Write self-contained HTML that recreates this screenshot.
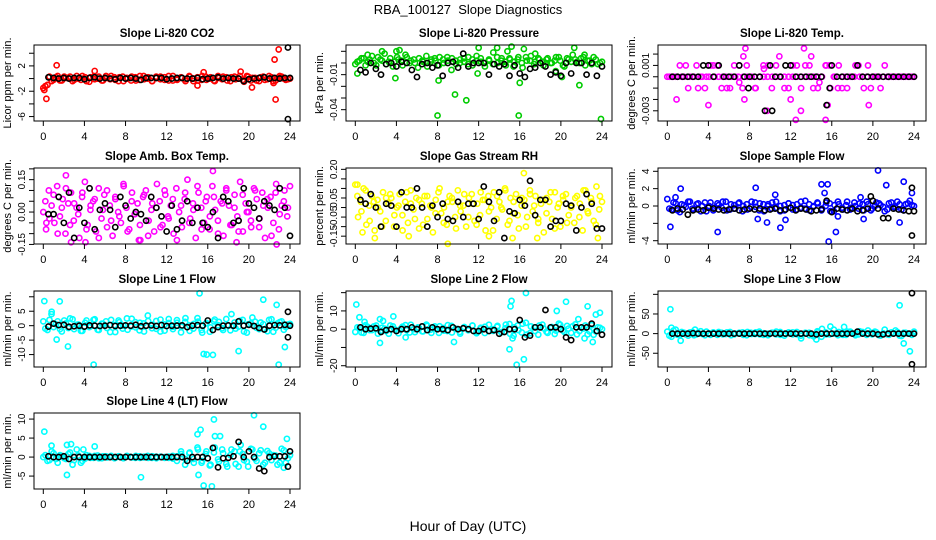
<!DOCTYPE html>
<html><head><meta charset="utf-8">
<style>
html,body{margin:0;padding:0;background:#fff;}
svg{display:block;font-family:"Liberation Sans",sans-serif;}
</style></head>
<body>
<svg id="chart" width="936" height="540" viewBox="0 0 936 540" xmlns="http://www.w3.org/2000/svg">
<rect x="0" y="0" width="936" height="540" fill="#fff"/>
<text x="468" y="14" text-anchor="middle" font-size="13">RBA_100127&#160; Slope Diagnostics</text>
<text x="468" y="531" text-anchor="middle" font-size="14">Hour of Day (UTC)</text>
</svg>
<script>
// ---- data ----
const xTicks = [0,4,8,12,16,20,24];
const co2Band = [-1.5,-1.0,-0.4,0.2,-0.3,0.3,0.1,-0.4,0.4,-0.2,0.2,-0.5,0.3,0.0,-0.3,0.4,-0.1,0.2,-0.4,0.3,0.1,-0.3,0.2,-0.2,0.4,0.0,-0.4,0.3,-0.1,0.2,-0.3,0.4,-0.2,0.1,-0.4,0.3,0.0,-0.3,0.4,-0.2,0.2,-0.4,0.1,0.3,-0.3,0.2,-0.1,0.4,-0.5,0.3,0.1,-0.3,0.2,-0.2,0.4,-0.4,0.1,0.3,-0.2,0.0];
const co2Band2 = [-1.2,0.3,-0.2,0.4,-0.3,0.1,0.3,-0.2,0.0,0.4,-0.4,0.2,-0.1,0.3,-0.3,0.1,0.4,-0.2,0.2,-0.4,0.0,0.3,-0.3,0.4,-0.1,0.2,-0.4,0.1,0.3,-0.2,0.4,-0.3,0.0,0.2,-0.1,0.4,-0.4,0.2,-0.2,0.3,0.0,-0.3,0.4,-0.1,0.2,-0.4,0.3,0.0,-0.2,0.4,-0.3,0.1,-0.4,0.3,-0.1,0.2,-0.3,0.4,0.0,-0.1];
const co2OutX = [1.3,0.3,0.1,5.0,15.0,15.6,19.2,20.3,22.4,22.5,22.6,22.9,23.0];
const co2OutY = [2.1,-3.2,-1.8,1.2,-1.1,1.0,1.1,-1.4,-0.7,3.0,-3.3,4.6,0.1];
const co2Black = [0.2,0.1,0,0.1,0,0.1,0.1,-0.1,0.1,0.2,0,0.1,0,-0.1,0.1,0,0.1,0,-0.2,0.1,0.1,0.1,0.1,-0.1,0,0.1,0.1,0,0,0.1,-0.1,0,0.1,0.2,0,0.1,0,0,-0.4,-0.1,0,0.1,0.2,0,0.1,0,0.1,0.1];
const co2BlkX = [23.8,23.8]; const co2BlkY = [4.9,-6.4];

const presBand = [-0.001,0.002,0.004,0.001,0.006,-0.002,0.003,0.008,0.001,-0.003,0.005,0.002,0.007,0.000,0.003,-0.004,0.002,0.006,0.001,0.004,-0.002,0.003,0.005,-0.006,0.002,0.000,0.004,-0.001,0.003,0.006,0.001,-0.003,0.002,0.009,0.000,0.004,-0.002,0.003,0.001,0.005,-0.004,0.002,0.006,0.001,0.003,-0.002,0.004,0.000,0.005,0.002,-0.003,0.003,0.007,0.001,0.004,-0.002,0.002,0.005,-0.001,0.001];
const presBand2 = [0.001,0.004,-0.002,0.003,0.000,0.005,0.002,-0.001,0.004,0.001,0.003,-0.002,0.005,0.002,0.000,0.004,0.001,-0.003,0.003,0.002,0.005,0.000,0.002,0.004,-0.001,0.003,0.001,0.005,-0.002,0.002,0.004,0.000,0.003,-0.001,0.005,0.002,0.001,0.004,-0.003,0.003,0.000,0.005,0.002,-0.001,0.004,0.001,0.003,0.000,0.002,0.005,-0.002,0.004,0.001,0.003,0.000,0.005,0.002,-0.001,0.003,0.000];
const presOutX = [0.2,1.2,2.6,3.9,4.0,4.3,8.0,8.1,9.7,10.8,11.9,12.0,13.8,14.8,15.2,15.9,16.0,16.4,17.5,19.5,20.1,21.3,21.8,22.3,23.9];
const presOutY = [-0.009,0.007,0.010,-0.013,0.010,0.011,-0.045,-0.015,-0.027,-0.032,-0.009,0.013,0.013,0.010,0.014,-0.045,-0.017,0.012,0.008,-0.007,-0.012,0.013,-0.019,0.007,-0.048];
const presBlack = [-0.006,-0.008,0.000,-0.005,-0.010,-0.001,0.000,-0.003,0.001,0.000,-0.006,-0.012,-0.001,0.000,-0.004,-0.002,-0.011,0.000,0.001,-0.004,0.008,-0.003,0.000,0.000,0.000,-0.010,-0.001,-0.003,-0.001,-0.011,-0.002,-0.009,-0.012,-0.005,-0.004,0.000,-0.003,-0.010,-0.008,-0.011,0.000,-0.009,0.000,0.000,-0.010,0.000,-0.011,-0.003];
const presBlkX = []; const presBlkY = [];

const tempBand = [0,0,0,0.001,0,-0.001,0,0.001,0,-0.001,0,0.001,0.001,-0.001,0,-0.001,0.001,0,-0.001,0.001,0,-0.001,0,0.001,0,-0.001,0.001,0,0,-0.001,0.001,0,-0.001,0.001,0.001,0,-0.001,0,0.001,-0.001,0,0.001,0,-0.001,0,0.001,0,-0.001,0.001,0,0,-0.001,0.001,0,0,0,0,0,0,0];
const tempBand2 = [0,0,0,0,0.001,0,0,-0.001,0,0,0.001,0,0,0,-0.001,0,0,0.001,0,0,0,-0.001,0,0,0.001,0,0,0,-0.001,0,0,0.001,0,0,0,-0.001,0,0,0.001,0.001,0,-0.001,-0.001,0,0,0,0.001,0,0,-0.001,0,0,0,0,0,0,0,0,0,0];
const tempOutX = [0.9,4.0,7.0,7.4,7.6,9.4,9.7,10.9,12.0,12.5,13.0,13.3,14.0,14.8,15.4,15.6,19.6,7.5];
const tempOutY = [-0.002,-0.0025,-0.0005,0.0018,0.0025,0.0007,-0.003,0.0018,-0.002,-0.0038,-0.003,0.0025,0.0018,-0.0005,-0.0038,-0.0025,-0.0025,-0.002];
const tempBlack = [0,0,0,0,0,0,0.001,0.001,0,0.001,0,0,0,0.001,0,0,0,0,-0.003,0.001,0,0,0.001,0.001,0,0,0,0,0,0,-0.0025,0.001,0,0,0,0,0.001,0,0,0,0,0,0,0,0,0,0,0];
const tempBlkX = [10.2,15.8,7.9]; const tempBlkY = [-0.003,-0.001,-0.001];

const ambBand = [0.00,-0.08,0.10,0.03,-0.05,0.12,-0.02,0.06,-0.10,0.04,0.09,-0.04,0.02,-0.12,0.07,0.14,-0.06,0.01,0.05,-0.09,0.11,-0.03,0.08,-0.07,0.03,-0.11,0.06,0.00,-0.05,0.12,0.02,-0.08,0.09,-0.01,0.04,-0.13,0.07,0.10,-0.04,0.01,-0.09,0.13,0.05,-0.06,0.08,-0.02,0.03,-0.10,0.11,0.00,-0.07,0.06,0.15,-0.03,0.04,-0.12,0.09,0.02,-0.05,0.07,-0.08,0.12,0.01,-0.04,0.05,-0.11,0.10,0.03,-0.06,0.08,-0.02,0.14,-0.09,0.04,0.00,-0.07,0.11,0.06,-0.03,0.09,-0.12,0.02,0.07,-0.05,0.13,-0.08,0.03,0.10,-0.02,0.12];
const ambBand2 = [0.05,-0.03,0.08,-0.10,0.02,0.11,-0.06,0.04,-0.01,0.09,-0.08,0.03,0.06,-0.12,0.01,0.10,-0.04,0.07,-0.02,0.13,-0.09,0.05,0.00,-0.06,0.08,-0.11,0.04,0.02,-0.07,0.10,-0.03,0.06,-0.13,0.03,0.09,-0.05,0.01,0.12,-0.08,0.05,-0.02,0.07,-0.10,0.04,0.11,-0.06,0.02,-0.09,0.08,0.00,-0.04,0.10,-0.07,0.03,0.06,-0.11,0.09,-0.01,0.05,0.02];
const ambOutX = [2.2,2.7,4.1,9.3,16.5,18.8,22.7,0.3];
const ambOutY = [0.17,-0.14,-0.14,-0.13,0.19,-0.14,-0.15,-0.05];
const ambBlack = [-0.01,-0.01,0.07,-0.05,0.09,-0.12,0.02,-0.05,0.11,-0.08,0.01,0.04,0.01,-0.07,0.07,0.03,-0.03,0.00,-0.01,-0.04,0.07,0.02,-0.02,-0.09,0.03,-0.08,-0.04,0.05,-0.05,0.02,-0.05,-0.07,0.00,-0.12,0.07,0.05,-0.05,-0.04,0.11,0.04,0.02,-0.03,0.05,0.03,0.01,0.11,0.02,-0.11];
const ambBlkX = []; const ambBlkY = [];

const rhBand = [0.12,-0.05,0.03,0.10,-0.09,0.01,0.06,-0.12,0.04,-0.02,0.08,-0.07,0.02,0.05,-0.10,0.00,0.07,-0.04,0.03,-0.08,0.09,-0.01,0.05,-0.11,0.02,0.06,-0.06,0.01,-0.13,0.04,0.08,-0.03,0.00,-0.09,0.06,0.03,-0.05,0.09,-0.02,0.01,-0.10,0.05,0.07,-0.07,0.02,-0.04,0.04,-0.12,0.06,0.00,0.08,-0.06,0.03,-0.01,0.10,-0.09,0.05,-0.03,0.07,-0.11,0.01,0.04,-0.05,0.09,-0.02,0.06,-0.08,0.02,-0.13,0.05,0.03,-0.06,0.08,0.00,-0.10,0.04,0.07,-0.04,0.01,-0.08,0.06,0.02,-0.12,0.09,-0.03,0.05,-0.07,0.11,-0.01,0.03];
const rhBand2 = [0.06,-0.02,0.09,-0.07,0.03,0.00,-0.10,0.05,0.07,-0.04,0.01,-0.12,0.08,0.02,-0.06,0.04,-0.09,0.06,0.00,-0.03,0.10,-0.08,0.03,0.05,-0.11,0.01,0.07,-0.05,0.02,-0.09,0.08,0.04,-0.02,-0.12,0.06,0.00,0.09,-0.07,0.03,-0.04,0.05,-0.10,0.07,0.01,-0.06,0.04,-0.03,0.08,-0.11,0.02,0.06,-0.08,0.00,0.05,-0.05,0.09,-0.02,0.03,-0.09,0.06];
const rhOutX = [0.7,1.9,5.2,9.0,13.0,15.3,16.4,17.7,23.6,0.2];
const rhOutY = [-0.13,-0.16,-0.15,-0.19,-0.15,-0.16,0.18,-0.16,-0.16,0.12];
const rhBlack = [0.04,0.02,0.07,0.00,-0.10,0.02,0.01,-0.10,0.08,0.00,0.00,0.10,0.00,-0.10,0.01,-0.05,0.02,-0.06,-0.07,0.03,-0.05,0.02,0.02,-0.06,0.11,0.03,-0.07,0.08,-0.16,-0.02,-0.03,0.04,0.01,0.14,-0.04,0.04,0.04,-0.10,-0.07,-0.07,0.02,0.01,-0.12,0.00,0.07,0.02,-0.11,-0.11];
const rhBlkX = []; const rhBlkY = [];

const sfBand = [0.8,-0.4,0.3,-0.7,0.1,0.5,-0.3,0.2,-0.6,0.4,0.0,-0.5,0.3,-0.2,0.5,-0.4,0.1,0.3,-0.6,0.2,-0.1,0.4,-0.5,0.2,0.0,-0.3,0.5,-0.6,0.1,0.3,-0.4,0.2,-0.2,0.6,-0.5,0.0,0.3,-0.3,0.4,-0.6,0.1,0.2,-0.4,0.5,-0.2,0.0,0.3,-0.5,0.2,-0.3,0.4,0.1,-0.6,0.3,-0.1,0.5,-0.4,0.2,0.6,0.0];
const sfBand2 = [-0.3,0.4,-0.5,0.2,-0.1,0.5,-0.4,0.3,0.0,-0.6,0.4,-0.2,0.1,0.5,-0.5,0.2,-0.3,0.4,0.0,-0.4,0.5,-0.1,0.3,-0.6,0.2,0.4,-0.2,0.0,-0.5,0.3,0.1,-0.4,0.5,-0.3,0.2,-0.1,0.4,-0.5,0.0,0.3,-0.6,0.5,-0.2,0.1,-0.4,0.4,-0.3,0.2,0.5,-0.5,0.0,0.3,-0.1,-0.4,0.4,-0.2,0.2,-0.5,0.3,0.1];
const sfOutX = [0.3,0.8,1.3,4.9,8.6,8.8,9.7,10.5,11.0,11.5,15.0,15.3,15.6,15.7,16.4,16.6,18.8,19.1,20.5,21.3,22.6,23.0,23.8];
const sfOutY = [-2.4,1.0,2.0,-3.0,2.1,-1.5,-1.9,1.3,-2.5,-1.6,2.5,1.5,2.5,-4.1,-3.0,-1.2,1.0,-1.5,4.1,2.4,-1.9,2.8,1.5];
const sfBlack = [-0.5,-0.3,-0.4,-1.0,-0.5,-0.4,-0.5,-0.2,-0.3,-0.4,-0.5,-0.4,-0.3,-0.5,-0.4,-0.3,-0.4,-0.3,-0.5,-0.4,-0.3,-0.5,-0.4,-0.2,-0.5,-0.3,-0.4,-0.6,-0.5,-0.4,0.6,-0.7,-0.3,-0.4,-0.5,-0.3,-0.6,-0.5,-0.3,0.6,-0.3,-1.4,-1.4,-0.3,-0.4,-0.5,-0.6,-0.6];
const sfBlkX = [23.8,23.8,19.8]; const sfBlkY = [-3.4,2.1,1.1];

const l1Band = [1.5,-1.5,4.8,0.5,-1.2,1.8,-0.8,2.2,0.3,-1.8,1.0,-0.5,2.0,-1.4,0.7,1.5,-2.2,0.2,1.8,-1.0,2.5,-0.3,1.2,-1.6,0.8,3.5,-0.9,1.6,-2.0,0.4,2.3,-1.2,1.0,-0.4,2.6,-1.8,0.6,1.4,-2.4,0.9,-0.6,2.1,1.3,-1.5,0.2,4.0,-1.0,1.7,-2.0,0.5,2.8,-0.7,1.1,-1.3,2.0,-2.1,0.8,1.5,-0.5,0.6];
const l1Band2 = [-1.0,2.0,-0.5,1.5,-2.0,0.8,2.5,-1.2,0.4,-1.8,1.8,-0.2,2.2,-1.5,0.6,-0.8,2.0,-2.2,1.2,0.0,-1.4,2.4,-0.6,1.0,-2.0,1.6,0.3,-1.1,2.1,-1.7,0.9,-0.4,1.9,-2.3,1.3,0.1,-1.0,2.6,-1.5,0.7,-2.1,1.5,0.2,-0.9,2.3,-1.6,1.1,-0.3,2.0,-2.4,0.8,1.4,-1.2,0.5,-1.9,2.2,-0.7,1.2,-1.4,0.4];
const l1OutX = [0.1,1.3,1.6,2.4,4.9,15.2,15.6,15.9,16.5,19.0,21.4,22.7,22.9,23.5,0.8];
const l1OutY = [8.5,-4.8,8.4,-7.2,-13.5,11.2,-9.8,-10,-10.1,-8.8,9.0,7.2,-13.5,-7.4,4.0];
const l1Black = [-0.3,0.7,0.2,0.3,-0.4,-0.2,0.0,-0.3,0.1,0.0,-0.1,0.0,0.2,-0.1,0.0,0.1,0.0,0.3,-0.2,0.0,0.1,-0.1,0.2,-0.1,0.0,0.0,0.1,-0.5,0.0,0.2,0.0,1.8,-1.5,-0.5,0.0,0.1,0.0,1.5,0.0,0.3,-0.1,-0.8,-1.3,0.0,0.2,0.1,0.3,0.0];
const l1BlkX = [23.8,23.8]; const l1BlkY = [4.8,-4.0];

const l2Band = [-1.5,0.8,-2.0,1.2,-0.5,2.0,-1.0,0.3,-2.5,1.5,-0.8,0.5,2.2,-1.8,0.0,1.0,-1.2,2.5,-0.3,1.5,-2.0,0.6,-1.0,1.8,0.2,-1.5,1.0,-0.6,2.0,-2.2,0.4,1.3,-1.0,0.0,1.8,-1.6,2.5,-2.5,1.0,-0.5,3.0,-3.0,1.5,-1.0,2.0,0.5,-2.0,1.2,-0.8,2.4,-1.5,0.3,1.6,-2.8,0.8,2.0,-1.2,-3.0,1.0,0.0];
const l2Band2 = [1.0,-1.8,2.2,-0.5,1.5,-2.4,0.8,-1.0,2.0,0.0,-2.2,1.4,-0.6,2.4,-1.6,0.6,-1.2,1.8,-2.0,0.4,1.6,-0.8,2.2,-1.8,0.2,-2.4,1.2,-0.4,1.9,-1.4,0.8,-2.1,2.4,-0.9,1.3,-1.7,0.5,2.8,-3.5,2.0,-1.8,3.5,-2.2,1.0,-3.0,2.5,-1.4,0.6,-2.6,3.0,-0.8,1.8,-2.0,2.6,-1.0,0.4,-2.8,2.2,-1.2,0.8];
const l2OutX = [0.1,0.4,0.9,2.4,2.4,3.7,4.9,9.6,15.0,15.1,15.2,15.3,15.7,16.4,16.6,19.6,20.5,21.7,22.3,22.6,23.1,23.4,23.8,2.7];
const l2OutY = [13.5,6.5,4,5.5,-7.5,7,-4.5,-7,-11,12.5,15.5,-5,-19.5,-16.5,19.8,10,15,5.5,-5,12.5,-7,8,9,4.5];
const l2Black = [1,0,0.3,0.5,-1.5,-0.5,0,-1,0,0,1,0,1.5,-0.5,1,0,0,-0.5,1,0,0.5,0,-1,-1,0,-1,-0.5,-2.5,-1.5,0,0,5,-4.5,-3.5,1,1,10.5,1,1,0,-4.5,-6,1,1,1,3,-1,-3];
const l2BlkX = []; const l2BlkY = [];

const l3Band = [5,-8,10,-3,2,-5,4,-2,6,-4,1,3,-3,2,-1,4,-2,1,3,-4,2,-1,5,-3,0,2,-2,4,-5,1,3,-2,-12,2,-4,-7,3,12,-2,18,0,4,-3,5,2,-4,6,1,8,-2,3,-5,10,-3,1,4,-6,2,0,5];
const l3Band2 = [-5,8,-3,4,-2,3,-4,2,-1,5,-3,1,4,-2,3,-4,0,2,-3,4,-1,3,-2,1,-4,2,5,-3,0,3,-2,4,-5,1,2,-3,6,-8,3,-2,10,-4,2,-3,5,0,-2,4,-3,2,5,-4,1,-2,3,8,-5,2,0,-3];
const l3OutX = [0.3,0.4,1.3,2.7,22.6,23.0,23.6,14.5,17.2];
const l3OutY = [62,15,-18,10,72,-25,-45,-15,17];
const l3Black = [0,0,0,0,1,0,0,0,0,0,0,0,0,0,0,0,0,0,0,0,0,0,0,0,0,0,0,0,-2,0,0,0,0,0,0,0,5,0,0,0,-2,-2,0,0,0,0,0,0];
const l3BlkX = [23.8,23.8]; const l3BlkY = [103,-78];

const l4Band = [0,-1,1.5,-0.5,0.5,-0.3,0.8,-2,2,-1.5,-0.4,0.3,-0.2,0.4,-0.3,0.2,0,-0.3,0.2,-0.2,0.3,0,-0.2,0.2,-0.1,0.3,-0.2,0.1,0,-0.2,0.1,-0.4,0.2,0.8,-0.5,1.2,-1.5,2,-1,1.5,-2,2.5,-1.2,1,-2.5,2,-1.8,1.5,-0.8,-2.5,2,-1,1.8,-1.5,1,0.5,-2,2.2,-1.5,0.5];
const l4Band2 = [0.5,-0.8,1.0,-1.5,0.3,-0.5,1.2,-0.8,0.4,-1.0,0.5,-0.2,0.3,-0.3,0.2,-0.1,0.3,-0.2,0.1,-0.3,0.2,-0.1,0.3,-0.2,0.1,-0.2,0.2,-0.3,0.1,0.0,-0.2,0.3,-1.0,1.5,-2.0,1.0,-0.5,2.5,-1.5,0.8,-2.2,1.2,-0.6,2.0,-1.8,0.5,1.5,-2.5,0.8,-1.2,2.2,-0.4,1.0,-2.0,1.6,-0.8,0.4,-1.5,1.8,-0.3];
const l4OutX = [0.1,0.8,2.3,2.3,2.7,3.9,5.0,9.5,15.0,15.1,15.3,15.6,16.4,16.6,17.2,19.2,20.5,21.4,23.4,23.7,16.7];
const l4OutY = [6.7,3,3.2,-4.7,3.4,2,2.8,-5.3,6,-4.7,7.2,-7.5,-7.7,9.9,5.5,3.2,11,8,-2.8,4.8,5.5];
const l4Black = [0.2,0,0,0.2,-0.5,0,0,0,0,0,0,0,0,0,0,0,0,0,0,0,0,0,0,0,0,0,0,-1,0,0,0,-0.3,2.4,-2.7,-0.3,-0.2,0.2,4,0,1.5,0,-3,-3.7,0,0.2,0.2,0.2,1.5];
const l4BlkX = [23.8]; const l4BlkY = [-2.5];

const yTicks = {
  co2:[-6,-4,-2,0,2,4], pres:[-0.04,-0.03,-0.02,-0.01,0,0.01], temp:[-0.003,-0.002,-0.001,0,0.001,0.002],
  amb:[-0.15,-0.10,-0.05,0,0.05,0.10,0.15,0.20], rh:[-0.15,-0.10,-0.05,0,0.05,0.10,0.15,0.20],
  sf:[-4,-2,0,2,4], l1:[-10,-5,0,5,10], l2:[-20,-10,0,10,20], l3:[-50,0,50,100], l4:[-5,0,5,10]
};
const yTickLabels = {
  co2:["-6","","-2","","2",""], pres:["-0.04","","","-0.01","",""], temp:["-0.003","","","","0.001",""],
  amb:["-0.15","","","0.00","","","0.15",""], rh:["-0.15","","-0.05","","0.05","","","0.20"],
  sf:["-4","","0","2","4"], l1:["-10","-5","0","5",""], l2:["-20","","0","10",""], l3:["-50","0","50",""], l4:["-5","0","5","10"]
};

// ---- panel config (layout) ----
const panels = [
 {key:"co2",title:"Slope Li-820 CO2",ylab:"Licor ppm per min.",color:"#ff0000",row:0,col:0,ylim:[-6.7,5.3],band:co2Band,band2:co2Band2,ox:co2OutX,oy:co2OutY,blk:co2Black,bx:co2BlkX,by:co2BlkY},
 {key:"pres",title:"Slope Li-820 Pressure",ylab:"kPa per min.",color:"#00cc00",row:0,col:1,ylim:[-0.0497,0.0154],band:presBand,band2:presBand2,ox:presOutX,oy:presOutY,blk:presBlack,bx:presBlkX,by:presBlkY},
 {key:"temp",title:"Slope Li-820 Temp.",ylab:"degrees C per min.",color:"#ff00ff",row:0,col:2,ylim:[-0.0039,0.0028],band:tempBand,band2:tempBand2,ox:tempOutX,oy:tempOutY,blk:tempBlack,bx:tempBlkX,by:tempBlkY},
 {key:"amb",title:"Slope Amb. Box Temp.",ylab:"degrees C per min.",color:"#ff00ff",row:1,col:0,ylim:[-0.148,0.204],band:ambBand,band2:ambBand2,ox:ambOutX,oy:ambOutY,blk:ambBlack,bx:ambBlkX,by:ambBlkY},
 {key:"rh",title:"Slope Gas Stream RH",ylab:"percent per min.",color:"#ffff00",row:1,col:1,ylim:[-0.191,0.207],band:rhBand,band2:rhBand2,ox:rhOutX,oy:rhOutY,blk:rhBlack,bx:rhBlkX,by:rhBlkY},
 {key:"sf",title:"Slope Sample Flow",ylab:"ml/min per min.",color:"#0000ff",row:1,col:2,ylim:[-4.38,4.38],band:sfBand,band2:sfBand2,ox:sfOutX,oy:sfOutY,blk:sfBlack,bx:sfBlkX,by:sfBlkY},
 {key:"l1",title:"Slope Line 1 Flow",ylab:"ml/min per min.",color:"#00ffff",row:2,col:0,ylim:[-14.3,12],band:l1Band,band2:l1Band2,ox:l1OutX,oy:l1OutY,blk:l1Black,bx:l1BlkX,by:l1BlkY},
 {key:"l2",title:"Slope Line 2 Flow",ylab:"ml/min per min.",color:"#00ffff",row:2,col:1,ylim:[-20.7,20.9],band:l2Band,band2:l2Band2,ox:l2OutX,oy:l2OutY,blk:l2Black,bx:l2BlkX,by:l2BlkY},
 {key:"l3",title:"Slope Line 3 Flow",ylab:"ml/min per min.",color:"#00ffff",row:2,col:2,ylim:[-85,108.5],band:l3Band,band2:l3Band2,ox:l3OutX,oy:l3OutY,blk:l3Black,bx:l3BlkX,by:l3BlkY},
 {key:"l4",title:"Slope Line 4 (LT) Flow",ylab:"ml/min per min.",color:"#00ffff",row:3,col:0,ylim:[-8.4,11.6],band:l4Band,band2:l4Band2,ox:l4OutX,oy:l4OutY,blk:l4Black,bx:l4BlkX,by:l4BlkY}
];
const rowTops = [45,168,291,413];
const colLefts = [34,346,658];
const NS = "http://www.w3.org/2000/svg";
const svg = document.getElementById("chart");
function mk(tag, attrs, parent){ const e=document.createElementNS(NS,tag); for(const k in attrs) e.setAttribute(k,attrs[k]); (parent||svg).appendChild(e); return e; }

panels.forEach(p=>{
  const L = colLefts[p.col], T = rowTops[p.row], W = p.col===2?268:266, H = 76;
  const g = mk("g",{});
  
  
  const xs = v => L + 9.3 + v/24*(246.7);
  const ys = v => T + H - (v - p.ylim[0])/(p.ylim[1]-p.ylim[0])*H;
  const t = mk("text",{x:L+W/2,y:T-8,"text-anchor":"middle","font-size":"11.5","font-weight":"bold"},g);
  t.textContent = p.title;
  
  
  const yl = mk("text",{transform:`translate(${L-23},${T+H/2}) rotate(-90)`,"text-anchor":"middle","font-size":"11"},g);
  yl.textContent = p.ylab;
  
  
  const pg = mk("g",{fill:"none","stroke-width":"1.6"},g);
  p.band.forEach((v,i)=>{
    const c = mk("circle",{cx:xs(i*24/(p.band.length-1)),cy:ys(v),r:2.6,stroke:p.color},pg);
    
    
  });
  p.band2.forEach((v,i)=>{
    const c = mk("circle",{cx:xs((i+0.5)*24/p.band2.length),cy:ys(v),r:2.6,stroke:p.color},pg);
    
    
  });
  p.ox.forEach((x,i)=>{
    const c = mk("circle",{cx:xs(x),cy:ys(p.oy[i]),r:2.6,stroke:p.color},pg);
    
    
  });
  p.blk.forEach((v,i)=>{
    const c = mk("circle",{cx:xs(0.5+i*0.5),cy:ys(v),r:2.6,stroke:"#000"},pg);
    
    
  });
  p.bx.forEach((x,i)=>{
    const c = mk("circle",{cx:xs(x),cy:ys(p.by[i]),r:2.6,stroke:"#000"},pg);
    
    
  });
  const b = mk("rect",{x:L,y:T,width:W,height:H,fill:"none",stroke:"#000","stroke-width":"1"},g);
  
  
  xTicks.forEach(v=>{
    mk("line",{x1:xs(v),x2:xs(v),y1:T+H,y2:T+H+5,stroke:"#000"},g);
    const tl = mk("text",{x:xs(v),y:T+H+19,"text-anchor":"middle","font-size":"11"},g);
    tl.textContent = v;
    
    
  });
  yTicks[p.key].forEach((v,i)=>{
    mk("line",{x1:L,x2:L-5,y1:ys(v),y2:ys(v),stroke:"#000"},g);
    const lab = yTickLabels[p.key][i];
    if(lab){
      const tl = mk("text",{transform:`translate(${L-9},${ys(v)}) rotate(-90)`,"text-anchor":"middle","font-size":"10"},g);
      tl.textContent = lab;
      
      
    }
  });
});
</script>
</body></html>
